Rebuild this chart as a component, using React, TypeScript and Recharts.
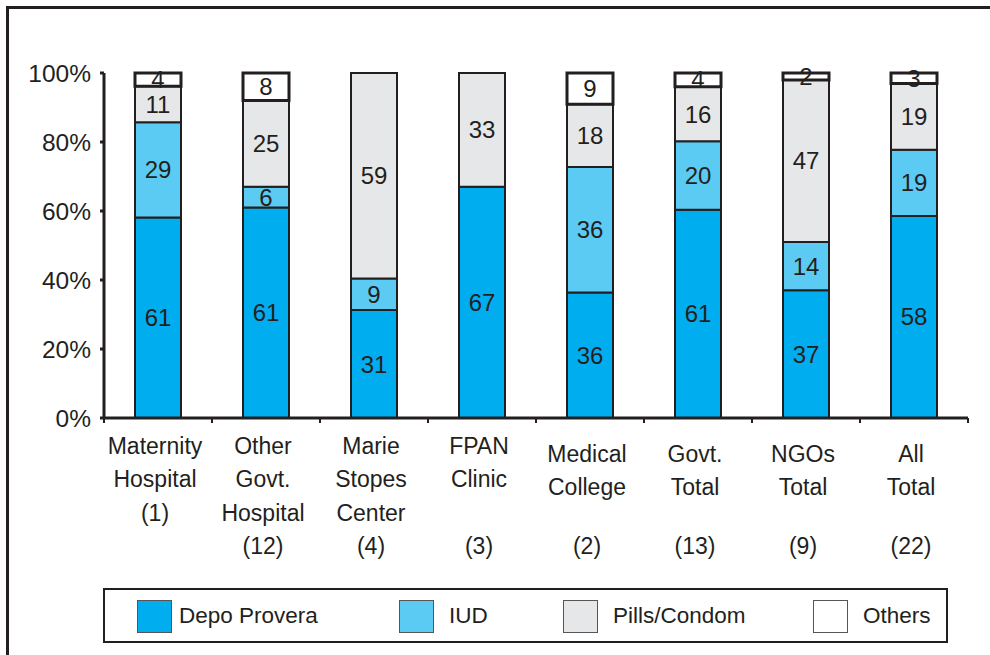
import React from 'react';
import { BarChart, Bar, XAxis, YAxis, LabelList } from 'recharts';

// Category labels (line breaks as drawn under the axis)
const categories = [
  'Maternity\nHospital\n(1)',
  'Other\nGovt.\nHospital\n(12)',
  'Marie\nStopes\nCenter\n(4)',
  'FPAN\nClinic\n\n(3)',
  'Medical\nCollege\n\n(2)',
  'Govt.\nTotal\n\n(13)',
  'NGOs\nTotal\n\n(9)',
  'All\nTotal\n\n(22)',
];

// Series values (percent of facilities)
const depoProvera = [61, 61, 31, 67, 36, 61, 37, 58];
const iud = [29, 6, 9, 0, 36, 20, 14, 19];
const pillsCondom = [11, 25, 59, 33, 18, 16, 47, 19];
const others = [4, 8, 0, 0, 9, 4, 2, 3];

const yTicks = [0, 0.2, 0.4, 0.6, 0.8, 1];

const seriesNames = ['Depo Provera', 'IUD', 'Pills/Condom', 'Others'];
const seriesKeys = ['depo', 'iud', 'pills', 'others'];
const seriesColors = ['#00aeef', '#5ccbf3', '#e6e7e8', '#ffffff'];

const INK = '#231f20';
const FONT = '"Liberation Sans", Arial, sans-serif';

const chartData = categories.map((name, i) => ({
  name,
  depo: depoProvera[i],
  iud: iud[i],
  pills: pillsCondom[i],
  others: others[i],
}));

// plot geometry: 990 wide, plot spans x 104..968
const PLOT_WIDTH = 990 - 104 - 22;
const BAND = PLOT_WIDTH / categories.length;
const LINE_H = 33.3;

const CategoryTick = (props: any) => {
  const { x, y, payload, index } = props;
  const lines = String(payload.value).split('\n');
  const shift = index >= 4 ? 8 : 0;
  return (
    <g>
      <line x1={x - BAND / 2} x2={x - BAND / 2} y1={y} y2={y + 5} stroke={INK} strokeWidth={2} />
      {index === categories.length - 1 && (
        <line x1={x + BAND / 2} x2={x + BAND / 2} y1={y} y2={y + 5} stroke={INK} strokeWidth={2} />
      )}
      {lines.map((ln, i) => (
        <text
          key={i}
          x={x - 3}
          y={y + 28 + i * LINE_H + (i < lines.length - 1 ? shift : 0)}
          textAnchor="middle"
          dominantBaseline="central"
          fontSize={23}
          fill={INK}
        >
          {ln}
        </text>
      ))}
    </g>
  );
};

const hideZero = (v: any) => (Number(v) ? v : '');

const legendX = [32, 294, 458, 708];

const Legend = () => (
  <div
    style={{
      position: 'absolute',
      left: 103,
      top: 588,
      width: 841,
      height: 51,
      border: `2px solid ${INK}`,
    }}
  >
    {seriesNames.map((n, i) => (
      <div
        key={n}
        style={{
          position: 'absolute',
          left: legendX[i],
          top: 9,
          display: 'flex',
          alignItems: 'center',
          height: 34,
        }}
      >
        <div
          style={{
            width: 33,
            height: 31,
            background: seriesColors[i],
            border: '1.5px solid #555',
            marginRight: i === 0 ? 7 : 15,
          }}
        />
        <span style={{ fontSize: 22.5, color: INK }}>{n}</span>
      </div>
    ))}
  </div>
);

export default function App() {
  return (
    <div
      style={{
        position: 'absolute',
        left: 0,
        top: 0,
        width: 990,
        height: 655,
        overflow: 'hidden',
        background: '#fff',
        fontFamily: FONT,
      }}
    >
      <div
        style={{
          position: 'absolute',
          left: 6,
          top: 6,
          width: 1100,
          height: 800,
          borderTop: `3px solid ${INK}`,
          borderLeft: `3px solid ${INK}`,
        }}
      />
      <div style={{ position: 'absolute', left: 0, top: 0 }}>
        <BarChart
          width={990}
          height={655}
          data={chartData}
          stackOffset="expand"
          margin={{ top: 73, right: 22, left: 0, bottom: 0 }}
          barSize={46}
        >
          <YAxis
            type="number"
            domain={[0, 1]}
            ticks={yTicks}
            width={104}
            tickFormatter={(v: number) => `${Math.round(v * 100)}%`}
            tick={{ fontSize: 24.5, fill: INK }}
            tickSize={4}
            tickMargin={9}
            axisLine={{ stroke: INK, strokeWidth: 3 }}
            tickLine={{ stroke: INK, strokeWidth: 3 }}
          />
          <XAxis
            dataKey="name"
            height={237}
            interval={0}
            tickSize={0}
            tickMargin={0}
            tickLine={false}
            axisLine={{ stroke: INK, strokeWidth: 3 }}
            tick={(p: any) => <CategoryTick {...p} />}
          />
          {seriesKeys.map((k, i) => (
            <Bar
              key={k}
              dataKey={k}
              name={seriesNames[i]}
              stackId="a"
              fill={seriesColors[i]}
              stroke={INK}
              strokeWidth={k === 'others' ? 3 : 2}
              isAnimationActive={false}
            >
              <LabelList
                dataKey={k}
                position="center"
                formatter={hideZero}
                fontSize={24}
                fill={INK}
              />
            </Bar>
          ))}
        </BarChart>
      </div>
      <Legend />
    </div>
  );
}
